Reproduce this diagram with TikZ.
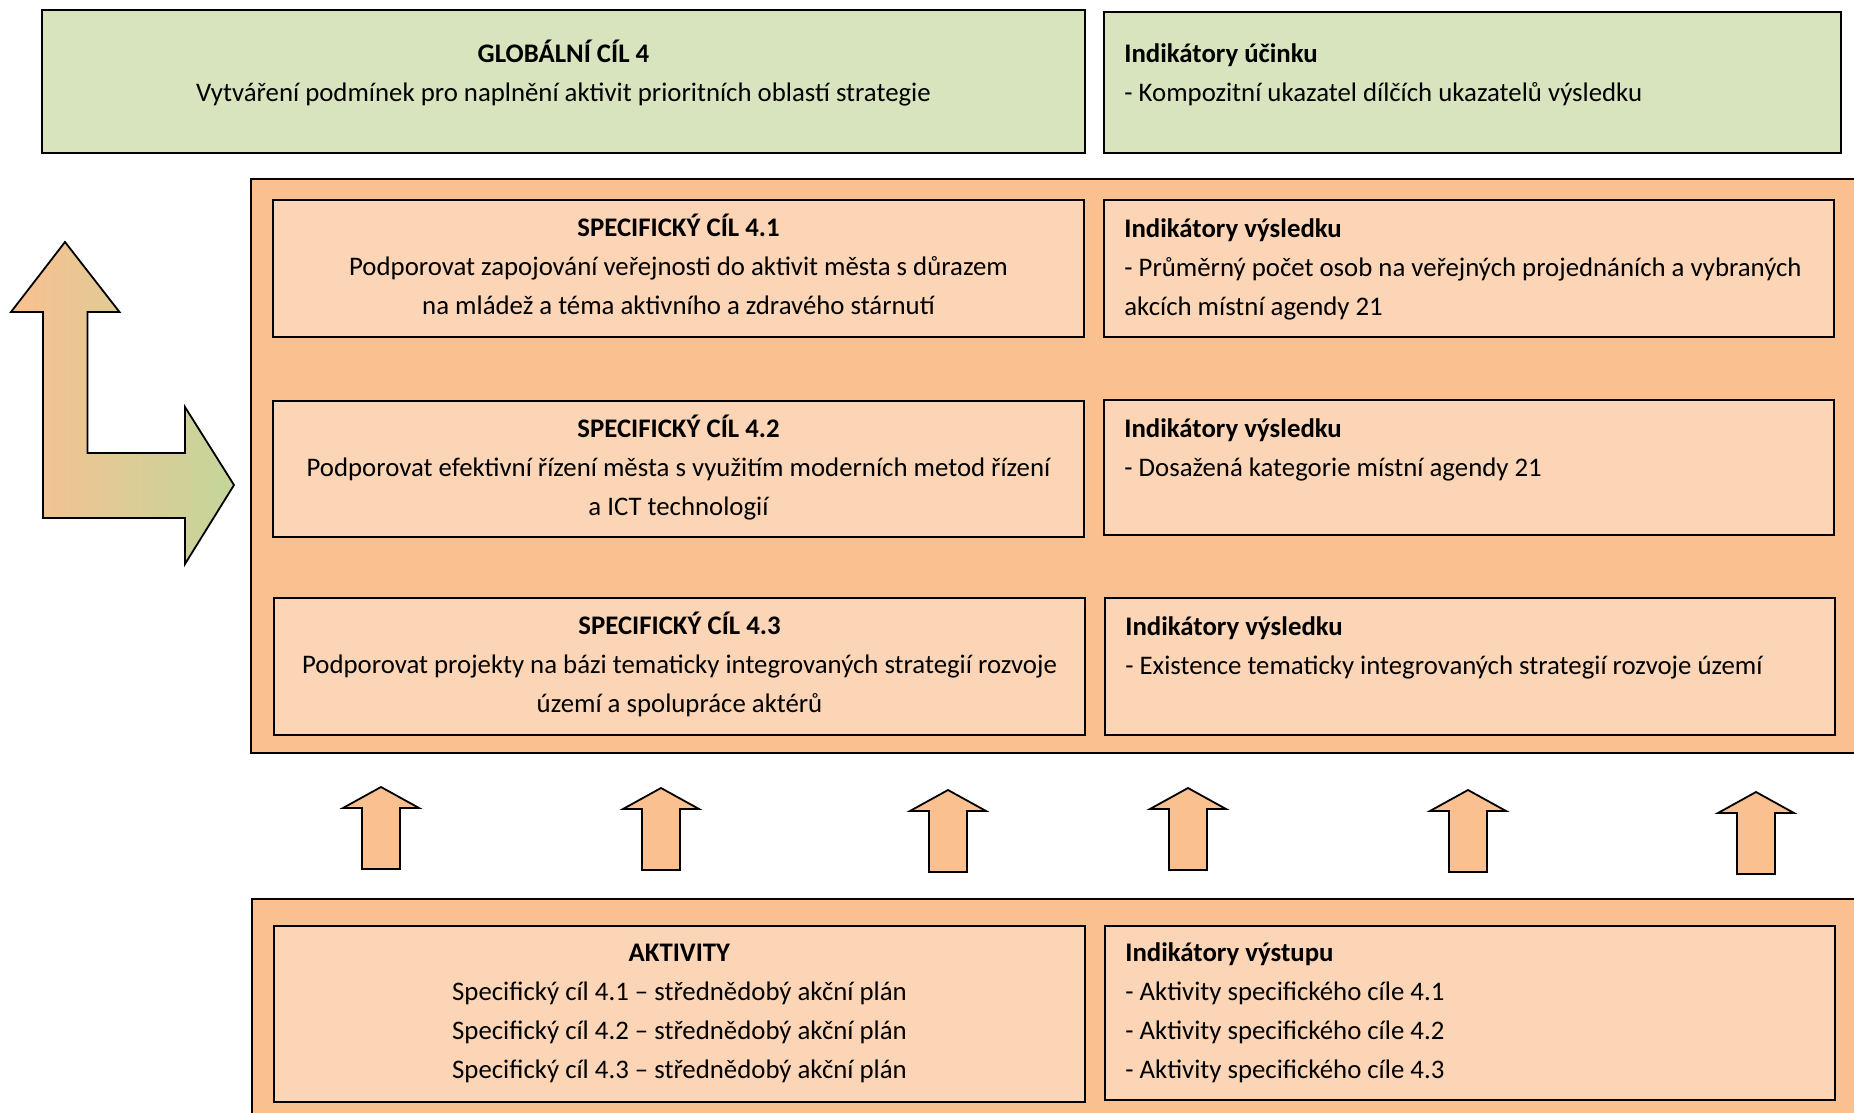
\documentclass[tikz,border=0pt]{standalone}
\usepackage{fontspec}
\setmainfont{Carlito}
\usetikzlibrary{calc,positioning}

\definecolor{goalGreen}{HTML}{D7E4BD}
\definecolor{panelOrange}{HTML}{FAC090}
\definecolor{boxOrange}{HTML}{FBD5B5}
\definecolor{arrowGreen}{HTML}{C3D69B}

\def\textTopMargin{14}
\def\textLeftMargin{20}
\def\leftBoxHalf{405.5}
\def\arrowHalfShaft{19}
\def\arrowHalfHead{38}
\def\arrowHeadHeight{21}
\def\arrowLength{82}

\tikzset{
  goalbox/.style={draw, line width=1pt, fill=goalGreen},
  panelbox/.style={draw, line width=1pt, fill=panelOrange},
  itembox/.style={draw, line width=1pt, fill=boxOrange},
  uparrow/.style={draw, line width=0.9pt, fill=panelOrange, line join=miter},
  bentarrow/.style={draw, line width=0.9pt, left color=panelOrange, right color=arrowGreen},
  boxtext/.style={font=\fontsize{13.4}{19.5}\selectfont, inner sep=0pt, execute at begin node=\strut},
}

\begin{document}
\begin{tikzpicture}[x=0.5pt, y=-0.5pt]
  \useasboundingbox (0,0) rectangle (1854,1113);
  \clip (0,0) rectangle (1854,1113);

  % top row
  \coordinate (GL) at (42,10);
  \coordinate (GR) at (1104,12);
  \draw[goalbox] (GL) rectangle ++(1043,143);
  \draw[goalbox] (GR) rectangle ++(737,141);

  \node[boxtext, anchor=north, align=center] (GL-text) at ($ (GL) + (521.5,\textTopMargin+16) $)
    {\textbf{GLOBÁLNÍ CÍL 4}\\Vytváření podmínek pro naplnění aktivit prioritních oblastí strategie};
  \node[boxtext, anchor=north west, align=left] (GR-text) at ($ (GR) + (\textLeftMargin,\textTopMargin+17) $)
    {\textbf{Indikátory účinku}\\- Kompozitní ukazatel dílčích ukazatelů výsledku};

  % specific goals
  \coordinate (PA) at (251,179);
  \draw[panelbox] (PA) rectangle (1870,753);

  \coordinate (SL1) at (273,200);
  \coordinate (SR1) at (1104,200);
  \coordinate (SL2) at (273,401);
  \coordinate (SR2) at (1104,400);
  \coordinate (SL3) at (274,598);
  \coordinate (SR3) at (1105,598);

  \draw[itembox] (SL1) rectangle ++(811,137);
  \draw[itembox] (SR1) rectangle ++(730,137);
  \draw[itembox] (SL2) rectangle ++(811,136);
  \draw[itembox] (SR2) rectangle ++(730,135);
  \draw[itembox] (SL3) rectangle ++(811,137);
  \draw[itembox] (SR3) rectangle ++(730,137);

  \node[boxtext, anchor=north, align=center] (SL1-text) at ($ (SL1) + (\leftBoxHalf,\textTopMargin) $)
    {\textbf{SPECIFICKÝ CÍL 4.1}\\Podporovat zapojování veřejnosti do aktivit města s důrazem\\na mládež a téma aktivního a zdravého stárnutí};
  \node[boxtext, anchor=north west, align=left] (SR1-text) at ($ (SR1) + (\textLeftMargin,\textTopMargin+4) $)
    {\textbf{Indikátory výsledku}\\- Průměrný počet osob na veřejných projednáních a vybraných\\akcích místní agendy 21};

  \node[boxtext, anchor=north, align=center] (SL2-text) at ($ (SL2) + (\leftBoxHalf,\textTopMargin) $)
    {\textbf{SPECIFICKÝ CÍL 4.2}\\Podporovat efektivní řízení města s využitím moderních metod řízení\\a ICT technologií};
  \node[boxtext, anchor=north west, align=left] (SR2-text) at ($ (SR2) + (\textLeftMargin,\textTopMargin+4) $)
    {\textbf{Indikátory výsledku}\\- Dosažená kategorie místní agendy 21};

  \node[boxtext, anchor=north, align=center] (SL3-text) at ($ (SL3) + (\leftBoxHalf,\textTopMargin) $)
    {\textbf{SPECIFICKÝ CÍL 4.3}\\Podporovat projekty na bázi tematicky integrovaných strategií rozvoje\\území a spolupráce aktérů};
  \node[boxtext, anchor=north west, align=left] (SR3-text) at ($ (SR3) + (\textLeftMargin,\textTopMargin+4) $)
    {\textbf{Indikátory výsledku}\\- Existence tematicky integrovaných strategií rozvoje území};

  % bent arrow
  \shadedraw[bentarrow] (65,242) -- (119.5,312) -- (87.5,312) -- (87.5,453) -- (185,453)
    -- (185,407) -- (234,485) -- (185,564) -- (185,518) -- (43,518) -- (43,312) -- (11,312) -- cycle;

  % small arrows
  \coordinate (ArrA) at (381,787);
  \coordinate (ArrB) at (661,788);
  \coordinate (ArrC) at (948,790);
  \coordinate (ArrD) at (1188,788);
  \coordinate (ArrE) at (1468,790);
  \coordinate (ArrF) at (1756,792);

  \draw[uparrow] (ArrA) -- ++(\arrowHalfHead,\arrowHeadHeight) -- ++(-\arrowHalfShaft,0) -- ++(0,\arrowLength-\arrowHeadHeight) -- ++(-2*\arrowHalfShaft,0) -- ++(0,-\arrowLength+\arrowHeadHeight) -- ++(-\arrowHalfShaft,0) -- cycle;
  \draw[uparrow] (ArrB) -- ++(\arrowHalfHead,\arrowHeadHeight) -- ++(-\arrowHalfShaft,0) -- ++(0,\arrowLength-\arrowHeadHeight) -- ++(-2*\arrowHalfShaft,0) -- ++(0,-\arrowLength+\arrowHeadHeight) -- ++(-\arrowHalfShaft,0) -- cycle;
  \draw[uparrow] (ArrC) -- ++(\arrowHalfHead,\arrowHeadHeight) -- ++(-\arrowHalfShaft,0) -- ++(0,\arrowLength-\arrowHeadHeight) -- ++(-2*\arrowHalfShaft,0) -- ++(0,-\arrowLength+\arrowHeadHeight) -- ++(-\arrowHalfShaft,0) -- cycle;
  \draw[uparrow] (ArrD) -- ++(\arrowHalfHead,\arrowHeadHeight) -- ++(-\arrowHalfShaft,0) -- ++(0,\arrowLength-\arrowHeadHeight) -- ++(-2*\arrowHalfShaft,0) -- ++(0,-\arrowLength+\arrowHeadHeight) -- ++(-\arrowHalfShaft,0) -- cycle;
  \draw[uparrow] (ArrE) -- ++(\arrowHalfHead,\arrowHeadHeight) -- ++(-\arrowHalfShaft,0) -- ++(0,\arrowLength-\arrowHeadHeight) -- ++(-2*\arrowHalfShaft,0) -- ++(0,-\arrowLength+\arrowHeadHeight) -- ++(-\arrowHalfShaft,0) -- cycle;
  \draw[uparrow] (ArrF) -- ++(\arrowHalfHead,\arrowHeadHeight) -- ++(-\arrowHalfShaft,0) -- ++(0,\arrowLength-\arrowHeadHeight) -- ++(-2*\arrowHalfShaft,0) -- ++(0,-\arrowLength+\arrowHeadHeight) -- ++(-\arrowHalfShaft,0) -- cycle;

  % activities
  \coordinate (PB) at (252,899);
  \draw[panelbox] (PB) rectangle (1870,1125);

  \coordinate (AL) at (274,926);
  \coordinate (AR) at (1105,926);
  \draw[itembox] (AL) rectangle ++(811,176);
  \draw[itembox] (AR) rectangle ++(730,174);

  \node[boxtext, anchor=north, align=center] (AL-text) at ($ (AL) + (\leftBoxHalf,\textTopMargin+4) $)
    {\textbf{AKTIVITY}\\Specifický cíl 4.1 – střednědobý akční plán\\Specifický cíl 4.2 – střednědobý akční plán\\Specifický cíl 4.3 – střednědobý akční plán};
  \node[boxtext, anchor=north west, align=left] (AR-text) at ($ (AR) + (\textLeftMargin,\textTopMargin+2) $)
    {\textbf{Indikátory výstupu}\\- Aktivity specifického cíle 4.1\\- Aktivity specifického cíle 4.2\\- Aktivity specifického cíle 4.3};
\end{tikzpicture}
\end{document}
